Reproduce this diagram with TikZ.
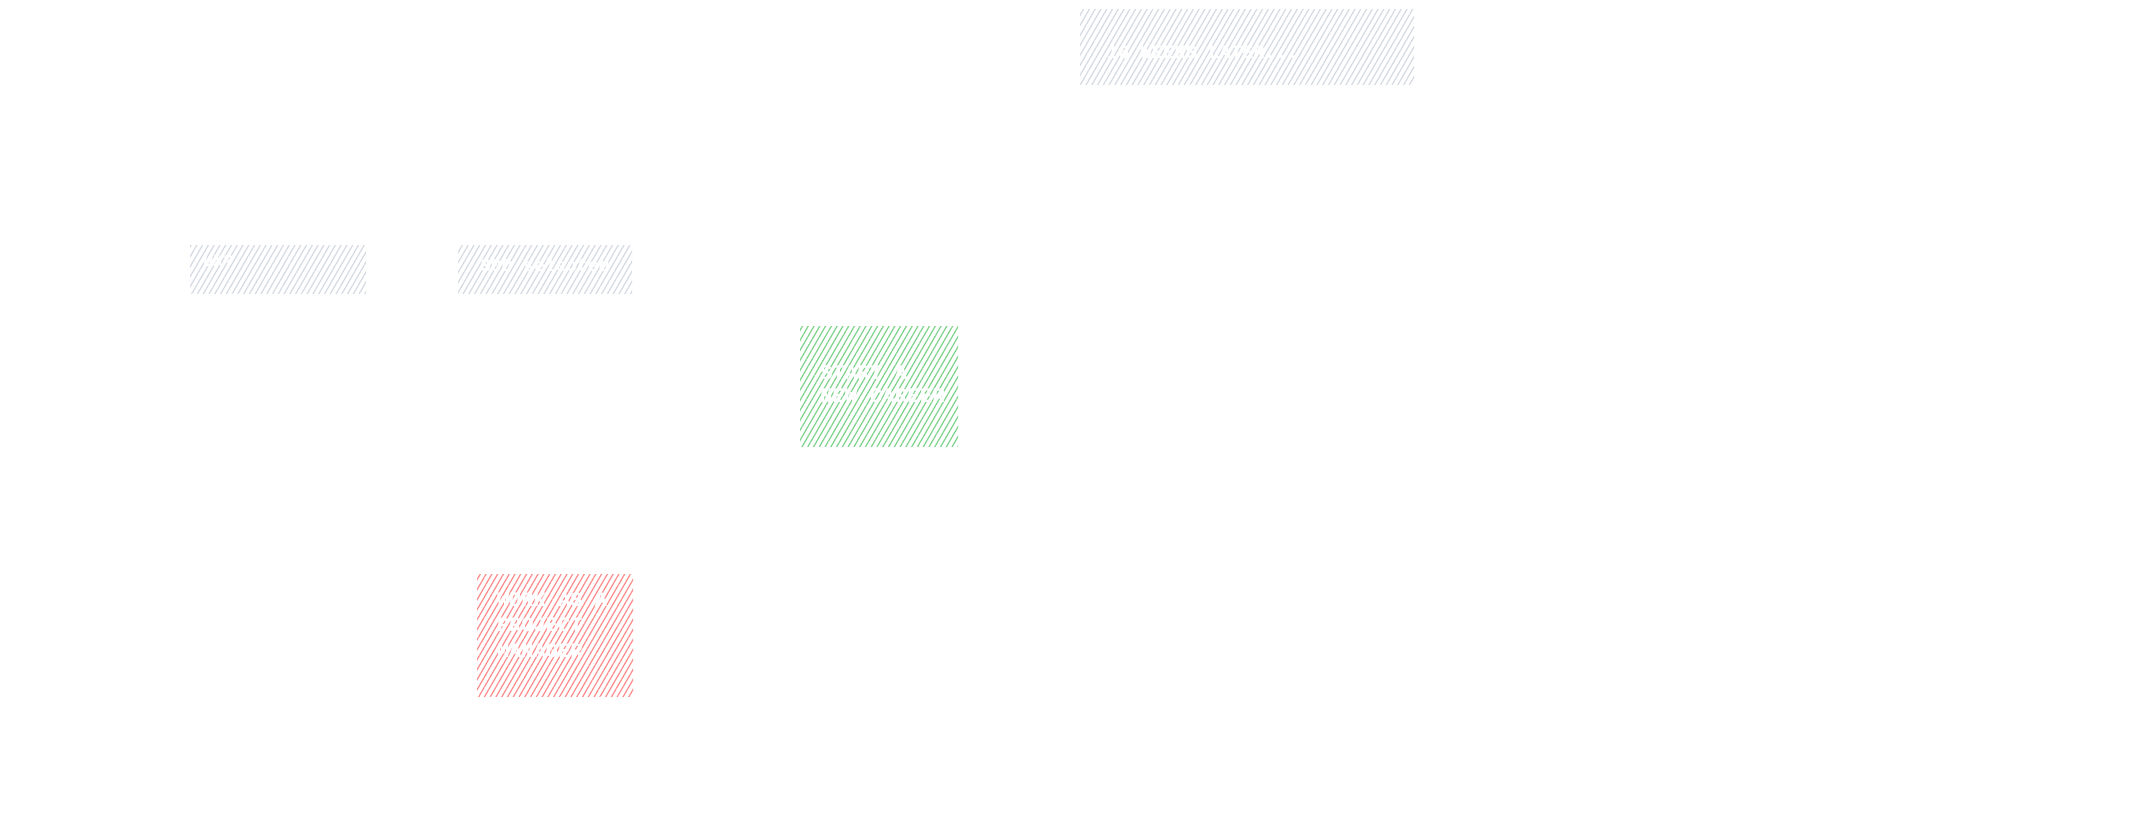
\documentclass[tikz,border=0pt]{standalone}
\usepackage{fontspec}
\setmonofont{Liberation Mono}
\usepackage{tikz}
\usetikzlibrary{positioning, patterns.meta}
\definecolor{hatchgray}{RGB}{212,217,226}
\definecolor{hatchgreen}{RGB}{125,210,138}
\definecolor{hatchred}{RGB}{252,138,138}
\tikzset{
  sketch/.style={rectangle, inner sep=0pt,
    pattern={Lines[angle=60, distance=2.5pt, line width=0.6pt]}},
  graybox/.style={sketch, pattern color=hatchgray},
  greenbox/.style={sketch, pattern color=hatchgreen},
  redbox/.style={sketch, pattern color=hatchred},
  notetext/.style={anchor=west, inner sep=0pt, align=left, text=white}
}
\begin{document}
\begin{tikzpicture}[x=0.5pt, y=-0.5pt]
  \useasboundingbox (0,0) rectangle (2155,826);

  % Gray notes
  \node[graybox, minimum width=167pt, minimum height=37.5pt] (later) at (1247,47) {};
  \node[graybox, minimum width=88pt, minimum height=24pt] (ux) at (278,269) {};
  \node[graybox, minimum width=87pt, minimum height=24pt] (selected) at (545,269) {};

  % Outcomes
  \node[greenbox, minimum width=79pt, minimum height=60pt] (career) at (879,386) {};
  \node[redbox, minimum width=78pt, minimum height=61pt] (manager) at (555,635) {};

  % Texts
  \node[notetext, font=\ttfamily\bfseries\fontsize{9.4}{11}\selectfont]
    (laterlbl) at ([xshift=13.5pt, yshift=-2.5pt]later.west) {16 WEEKS LATER...};
  \node[notetext, font=\ttfamily\bfseries\fontsize{8.5}{10}\selectfont]
    (uxlbl) at ([xshift=6.5pt, yshift=4pt]ux.west) {UX?};
  \node[notetext, font=\ttfamily\bfseries\fontsize{9}{10}\selectfont]
    (selectedlbl) at ([xshift=11pt, yshift=2pt]selected.west) {300 selected};
  \node[notetext, font=\ttfamily\bfseries\fontsize{10.4}{11.8}\selectfont]
    (careerlbl) at ([xshift=10pt, yshift=1pt]career.west) {START A\\NEW CAREER};
  \node[notetext, font=\ttfamily\bfseries\fontsize{10.2}{12.7}\selectfont]
    (managerlbl) at ([xshift=10pt, yshift=5pt]manager.west) {WORK AS A\\PROJECT\\MANAGER};
\end{tikzpicture}
\end{document}
